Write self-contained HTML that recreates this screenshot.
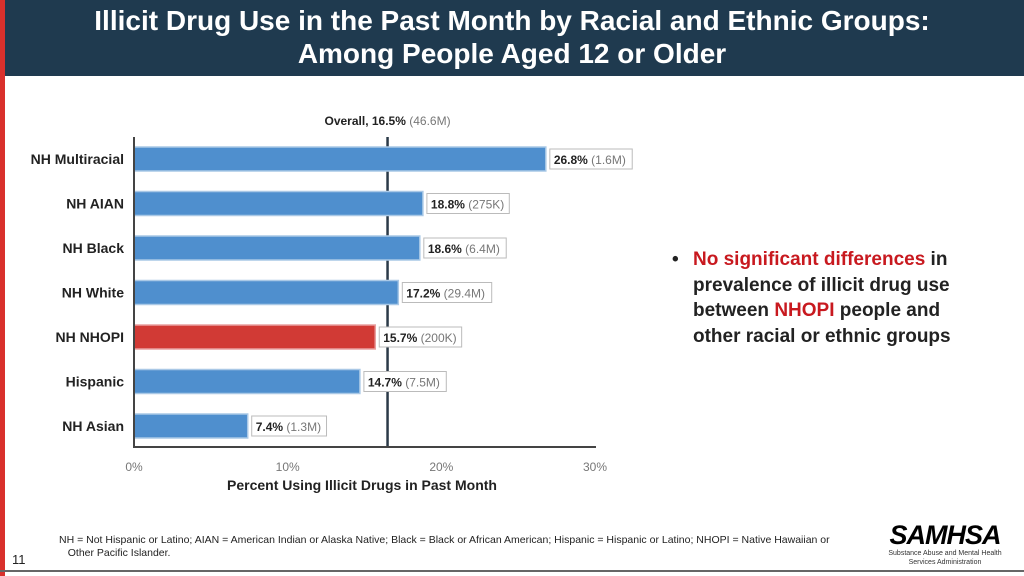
<!DOCTYPE html>
<html><head><meta charset="utf-8"><style>
body{margin:0;width:1024px;height:576px;overflow:hidden;background:#fff;font-family:"Liberation Sans",sans-serif;position:relative}
#hdr{position:absolute;left:0;top:0;width:1024px;height:76px;background:#1f3a4f}
#stripe{position:absolute;left:0;top:0;width:5px;height:576px;background:#d9302c}
#title{position:absolute;left:0;top:4px;width:1024px;text-align:center;color:#fff;font-size:28px;line-height:33px;font-weight:bold}
#bul{position:absolute;left:672px;top:247px;font-size:19px;line-height:25.5px;font-weight:bold;color:#222;width:300px}
.red{color:#c8191f}
#foot{position:absolute;left:59px;top:534px;font-size:10.5px;line-height:13px;color:#222;width:800px}
#pg{position:absolute;left:12px;top:552px;font-size:13px;color:#222}
#logo{position:absolute;left:880px;top:522px;width:130px;text-align:center}
#bottom{position:absolute;left:0;top:570px;width:1024px;height:2px;background:#666}
</style></head><body>
<div id="hdr"></div>
<div id="stripe"></div>
<div id="title">Illicit Drug Use in the Past Month by Racial and Ethnic Groups:<br>Among People Aged 12 or Older</div>
<svg id="chart" width="1024" height="576" style="position:absolute;left:0;top:0"></svg>
<div id="bul"><span style="position:absolute;left:0">•</span><div style="margin-left:21px"><span class="red">No significant differences</span> in prevalence of illicit drug use between <span class="red">NHOPI</span> people and other racial or ethnic groups</div></div>
<div id="foot">NH = Not Hispanic or Latino; AIAN = American Indian or Alaska Native; Black = Black or African American; Hispanic = Hispanic or Latino; NHOPI = Native Hawaiian or<br>&nbsp;&nbsp;&nbsp;Other Pacific Islander.</div>
<div id="pg">11</div>
<div id="logo"><div style="font-size:27px;font-weight:bold;font-style:italic;letter-spacing:-1px;line-height:27px">SAMHSA</div><div style="font-size:7px;line-height:9px;color:#333">Substance Abuse and Mental Health<br>Services Administration</div></div>
<div id="bottom"></div>
<script>
const categories=["NH Multiracial","NH AIAN","NH Black","NH White","NH NHOPI","Hispanic","NH Asian"];
const values=[26.8,18.8,18.6,17.2,15.7,14.7,7.4];
const counts=["1.6M","275K","6.4M","29.4M","200K","7.5M","1.3M"];
const highlight=[false,false,false,false,true,false,false];
const ticks=[0,10,20,30];
const overall=16.5;
const overallCount="46.6M";
const NS="http://www.w3.org/2000/svg";
const svg=document.getElementById('chart');
const x=v=>134+v*(595-134)/30;
const y=i=>159+i*44.5;
function mk(t,a,txt){const e=document.createElementNS(NS,t);for(const k in a)e.setAttribute(k,a[k]);if(txt!=null)e.textContent=txt;svg.appendChild(e);return e;}
const ol=mk('line',{x1:x(overall),x2:x(overall),y1:137,y2:447,stroke:'#2b3a48','stroke-width':2.5});


categories.forEach((c,i)=>{
 const b=mk('rect',{x:x(0),y:y(i)-12,width:x(values[i])-x(0),height:24,fill:highlight[i]?'#d13a35':'#4f8fce',stroke:highlight[i]?'#e9a0a0':'#a9c8e6','stroke-width':1.5});
 
 
 const l=mk('text',{x:124,y:y(i)+5,'text-anchor':'end','font-size':14,'font-weight':'bold',fill:'#222'},c);
 
 
 const lx=x(values[i])+4;
 const w=values[i].toFixed(1).length*7.6+10+counts[i].length*7+14;
 const bx=mk('rect',{x:lx,y:y(i)-10,width:w,height:20,fill:'#fff',stroke:'#bbb'});
 
 
 const t=mk('text',{x:lx+4,y:y(i)+5,'font-size':12,fill:'#222'});
 
 
 const s1=document.createElementNS(NS,'tspan');s1.setAttribute('font-weight','bold');s1.textContent=values[i].toFixed(1)+'% ';t.appendChild(s1);
 const s2=document.createElementNS(NS,'tspan');s2.setAttribute('fill','#777');s2.textContent='('+counts[i]+')';t.appendChild(s2);
});
const ot=mk('text',{x:x(overall),y:125,'text-anchor':'middle','font-size':12,fill:'#222'});


ot.innerHTML='<tspan font-weight="bold">Overall, '+overall+'% </tspan><tspan fill="#777">('+overallCount+')</tspan>';
const ya=mk('line',{x1:134,x2:134,y1:137,y2:447,stroke:'#444','stroke-width':2});


const xa=mk('line',{x1:133,x2:596,y1:447,y2:447,stroke:'#444','stroke-width':2});


ticks.forEach(v=>{const t=mk('text',{x:x(v),y:471,'text-anchor':'middle','font-size':12,fill:'#777'},v+'%');
 
 });
const xt=mk('text',{x:362,y:490,'text-anchor':'middle','font-size':14,'font-weight':'bold',fill:'#222'},'Percent Using Illicit Drugs in Past Month');


</script>
</body></html>
